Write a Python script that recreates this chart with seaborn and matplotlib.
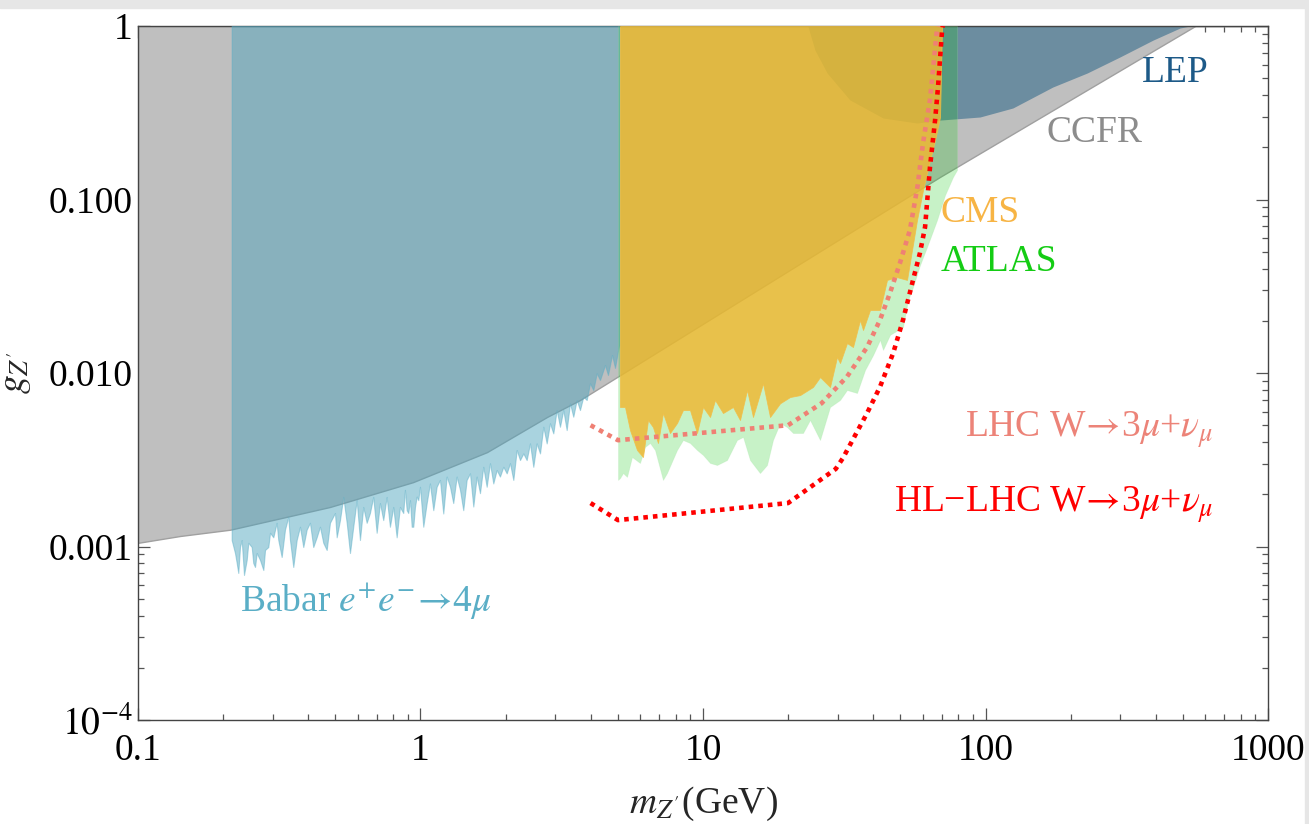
import matplotlib
matplotlib.use("Agg")
import matplotlib.pyplot as plt
import seaborn as sns
import pandas as pd
from matplotlib.ticker import FixedLocator, FixedFormatter, LogLocator, NullFormatter
from matplotlib.patches import Rectangle

# values: m_Z' in GeV, g_Z'
ccfr_m = [0.1, 0.141, 0.212, 0.478, 0.941, 1.719, 2.804, 3.669, 69.0, 552.0, 1000.0]
ccfr_g = [0.00105, 0.00115, 0.00125, 0.00169, 0.00235, 0.00350, 0.00558, 0.00699, 0.135, 1.0, 1.0]

lep_m = [23.5, 24.9, 27.5, 33.1, 43.4, 57.2, 69.0, 95.6, 125, 173, 229, 299, 392, 488, 529]
lep_g = [1.0, 0.727, 0.536, 0.375, 0.295, 0.276, 0.287, 0.299, 0.337, 0.445, 0.536, 0.663, 0.83, 0.974, 1.0]

babar_m = [0.2146, 0.2205, 0.2236, 0.2265, 0.2297, 0.2329, 0.2373, 0.2426, 0.2458, 0.2527,
           0.2559, 0.2596, 0.2632, 0.2704, 0.2778, 0.2817, 0.2893, 0.2934, 0.3013, 0.3097,
           0.3138, 0.3226, 0.3314, 0.3404, 0.3452, 0.3546, 0.3646, 0.3745, 0.3847, 0.3955,
           0.4062, 0.4173, 0.4291, 0.4408, 0.4528, 0.4656, 0.4782, 0.4981, 0.5051, 0.5188,
           0.5330, 0.5480, 0.5629, 0.5782, 0.5945, 0.6106, 0.6272, 0.6449, 0.6623, 0.6804,
           0.6996, 0.7186, 0.7382, 0.7590, 0.7796, 0.8009, 0.8235, 0.8458, 0.8689, 0.8810,
           0.8935, 0.9051, 0.9180, 0.9307, 0.9430, 0.9561, 0.9694, 0.9822, 0.9959, 1.023,
           1.052, 1.080, 1.110, 1.141, 1.172, 1.204, 1.238, 1.272, 1.306, 1.343,
           1.380, 1.417, 1.457, 1.497, 1.538, 1.581, 1.624, 1.668, 1.715, 1.762,
           1.810, 1.861, 1.911, 1.964, 2.019, 2.074, 2.131, 2.191, 2.250, 2.312,
           2.376, 2.441, 2.508, 2.578, 2.649, 2.721, 2.797, 2.873, 2.952, 3.034,
           3.117, 3.202, 3.292, 3.382, 3.474, 3.572, 3.669, 3.769, 3.875, 3.981,
           4.090, 4.205, 4.319, 4.499, 4.610, 4.764, 4.882, 5.043]
babar_g = [0.00109, 0.000917, 0.000803, 0.000704, 0.000993, 0.00109, 0.000685, 0.000836, 0.00105, 0.000993,
           0.000803, 0.000762, 0.000917, 0.000836, 0.000732, 0.000955, 0.000993, 0.00120, 0.00113, 0.00137,
           0.00109, 0.00087, 0.00125, 0.00148, 0.00109, 0.000762, 0.00109, 0.00130, 0.000993, 0.00125,
           0.00137, 0.000993, 0.00113, 0.00130, 0.00105, 0.000955, 0.00137, 0.00156, 0.00113, 0.00142,
           0.00193, 0.00137, 0.000917, 0.00130, 0.00185, 0.00109, 0.00169, 0.00137, 0.00156, 0.00193,
           0.00120, 0.00178, 0.00142, 0.00193, 0.00130, 0.00169, 0.00113, 0.00169, 0.00156, 0.00212,
           0.00162, 0.00156, 0.00185, 0.00130, 0.00130, 0.00169, 0.00194, 0.00185, 0.00221, 0.00130,
           0.00178, 0.00231, 0.00162, 0.00221, 0.00242, 0.00155, 0.00253, 0.00221, 0.00178, 0.00253,
           0.00212, 0.00162, 0.00242, 0.00264, 0.00170, 0.00253, 0.00203, 0.00288, 0.00221, 0.00302,
           0.00231, 0.00276, 0.00253, 0.00288, 0.00264, 0.00302, 0.00242, 0.00360, 0.00315, 0.00344,
           0.00315, 0.00393, 0.00288, 0.00393, 0.00344, 0.00490, 0.00393, 0.00513, 0.00449, 0.00612,
           0.00490, 0.00612, 0.00469, 0.00669, 0.00560, 0.00699, 0.00612, 0.00730, 0.00699, 0.00872,
           0.00798, 0.00996, 0.00911, 0.0111, 0.00974, 0.0127, 0.0107, 0.0145]

atlas_m = [5.003, 5.085, 5.211, 5.383, 5.607, 5.984, 6.233, 6.492, 6.762, 7.216,
           7.455, 8.091, 8.495, 8.995, 9.524, 10.0, 10.59, 11.21, 12.16, 13.19,
           13.86, 14.67, 15.91, 16.85, 17.69, 18.74, 19.83, 20.83, 22.59, 23.92,
           25.96, 28.16, 30.55, 32.34, 35.09, 37.45, 40.0, 42.32, 43.37, 45.92,
           51.05, 53.18, 55.39, 58.63, 62.08, 67.36, 71.89, 76.74, 79.27]
atlas_g = [0.00242, 0.00248, 0.00265, 0.00252, 0.00328, 0.00303, 0.00375, 0.00395, 0.00360, 0.00242,
           0.00265, 0.00360, 0.00411, 0.00395, 0.00360, 0.00337, 0.00303, 0.00295, 0.00315, 0.00411,
           0.00428, 0.00315, 0.00265, 0.00295, 0.00411, 0.00515, 0.00488, 0.00451, 0.00451, 0.00536,
           0.00411, 0.00637, 0.00699, 0.00798, 0.00767, 0.0104, 0.0127, 0.0155, 0.0136, 0.0166,
           0.0184, 0.0263, 0.0313, 0.0419, 0.0532, 0.0762, 0.106, 0.135, 0.148]

cms_m = [5.085, 5.296, 5.516, 5.840, 6.132, 6.387, 6.653, 6.929, 7.216, 7.640,
         8.091, 8.495, 8.995, 9.524, 10.0, 10.59, 11.03, 11.77, 12.77, 13.52,
         14.32, 15.03, 16.31, 17.27, 18.74, 20.32, 22.05, 24.51, 25.96, 28.16,
         29.81, 30.55, 32.34, 33.96, 35.96, 36.85, 39.01, 42.32, 44.81, 48.62,
         52.74, 54.94, 57.22, 60.09, 63.62, 66.27, 69.02, 70.15]
cms_g = [0.00637, 0.00637, 0.00469, 0.00360, 0.00328, 0.00536, 0.00488, 0.00395, 0.00588, 0.00451,
         0.00515, 0.00612, 0.00612, 0.00451, 0.00637, 0.00558, 0.00699, 0.00588, 0.00637, 0.00536,
         0.00798, 0.00558, 0.00872, 0.00558, 0.00669, 0.00727, 0.00746, 0.00831, 0.00948, 0.00831,
         0.01237, 0.01142, 0.01489, 0.01412, 0.0202, 0.0177, 0.0231, 0.0231, 0.0344, 0.0357,
         0.0344, 0.0512, 0.0762, 0.1134, 0.169, 0.220, 0.299, 1.0]

lhc_m = [4.0, 5.0, 20.0, 26.3, 32.3, 38.1, 42.3, 45.9, 49.8, 54.0, 57.5, 60.1, 63.6, 67.3, 68.0]
lhc_g = [0.0050, 0.0041, 0.0050, 0.0067, 0.0095, 0.0141, 0.0202, 0.0289, 0.0431, 0.0667, 0.12, 0.212, 0.375, 0.95, 1.0]

hllhc_m = [4.0, 5.0, 20.0, 29.5, 31.3, 38.1, 42.3, 47.1, 51.05, 55.4, 58.6, 61.1, 63.6, 66.3, 67.9, 70.2, 70.6]
hllhc_g = [0.00178, 0.00142, 0.00178, 0.0028, 0.00324, 0.00588, 0.00831, 0.0130, 0.0202, 0.0344, 0.0492,
           0.0694, 0.154, 0.287, 0.445, 0.95, 1.0]

x_ticks = [0.1, 1, 10, 100, 1000]
x_labels = ["0.1", "1", "10", "100", "1000"]
y_ticks = [1e-4, 1e-3, 1e-2, 1e-1, 1]
y_labels = [r"$10^{-4}$", "0.001", "0.010", "0.100", "1"]

sns.set_theme(style="ticks")
plt.rcParams["font.family"] = ["Liberation Serif", "DejaVu Serif"]
plt.rcParams["mathtext.fontset"] = "stix"

fig = plt.figure(figsize=(13.09, 8.24), dpi=100)
fig.patches.append(Rectangle((0, 1 - 8 / 824), 1, 8 / 824, transform=fig.transFigure,
                             color="#e6e6e6", zorder=0))
fig.patches.append(Rectangle((1305 / 1309, 0), 4 / 1309, 1, transform=fig.transFigure,
                             color="#e6e6e6", zorder=0))
ax = fig.add_axes([0.1054, 0.1262, 0.8633, 0.8422])
ax.set_xscale("log")
ax.set_yscale("log")

# exclusion regions
ax.fill_between(ccfr_m, ccfr_g, 1, color="#bfbfbf", ec="#a0a0a0", lw=1.0, zorder=1)
ax.fill_between(lep_m, lep_g, 1, color="#286487", alpha=0.55, lw=0, zorder=2)
ax.fill_between(babar_m, babar_g, 1, fc="#4ca3bc", alpha=0.48, ec="#5aaec6", lw=0.8, zorder=3)
ax.fill_between(atlas_m, atlas_g, 1, fc="#11c811", alpha=0.23, ec="#9fe39f", lw=0.6, zorder=4)
ax.fill_between(cms_m, cms_g, 1, fc="#f0b732", alpha=0.83, ec="#f3bd45", lw=0.6, zorder=5)

# projected sensitivities
lines = pd.DataFrame({"m": lhc_m + hllhc_m, "g": lhc_g + hllhc_g,
                      "set": ["lhc"] * len(lhc_m) + ["hl"] * len(hllhc_m)})
for key, col in [("lhc", "#ef8074"), ("hl", "#ff0000")]:
    sub = lines[lines["set"] == key]
    sns.lineplot(data=sub, x="m", y="g", sort=False, estimator=None, color=col,
                 lw=3.3, ax=ax, zorder=6)
    ln = ax.lines[-1]
    ln.set_linestyle((0, (1.0, 1.1)))
    ln.set_dash_capstyle("butt")

# labels
fs = 27
arrow = r"$\!\rightarrow\!$"
ax.text(469, 0.536, "LEP", color="#1d5a88", fontsize=fs, ha="center", va="center", zorder=7)
ax.text(244, 0.2416, "CCFR", color="#8c8c8c", fontsize=fs, ha="center", va="center", zorder=7)
ax.text(69.5, 0.0836, "CMS", color="#f7b444", fontsize=fs, ha="left", va="center", zorder=7)
ax.text(69.5, 0.0436, "ATLAS", color="#14cc14", fontsize=fs, ha="left", va="center", zorder=7)
ax.text(640, 0.0047, "LHC W" + arrow + "3$\\mu$+$\\nu_{\\mu}$", color="#ec8378",
        fontsize=fs, ha="right", va="center", zorder=7)
ax.text(640, 0.00175, "HL−LHC W" + arrow + "3$\\mu$+$\\nu_{\\mu}$", color="#ff0000",
        fontsize=fs, ha="right", va="center", zorder=7)
ax.text(0.2297, 0.00049, "Babar $e^{+}e^{-}$" + arrow + "4$\\mu$", color="#5aaec6",
        fontsize=fs, ha="left", va="center", zorder=7)

ax.set_xlim(0.1, 1000)
ax.set_ylim(1e-4, 1)
ax.xaxis.set_major_locator(FixedLocator(x_ticks))
ax.xaxis.set_major_formatter(FixedFormatter(x_labels))
ax.yaxis.set_major_locator(FixedLocator(y_ticks))
ax.yaxis.set_major_formatter(FixedFormatter(y_labels))
ax.xaxis.set_minor_locator(LogLocator(base=10, subs=range(2, 10), numticks=20))
ax.yaxis.set_minor_locator(LogLocator(base=10, subs=range(2, 10), numticks=20))
ax.xaxis.set_minor_formatter(NullFormatter())
ax.yaxis.set_minor_formatter(NullFormatter())
ax.tick_params(which="both", direction="in", top=True, right=True, color="#555555",
               width=0.9, labelsize=fs, labelcolor="black")
ax.tick_params(which="major", length=8.5)
ax.tick_params(which="minor", length=4.3)
ax.tick_params(axis="x", pad=10)
ax.tick_params(axis="y", pad=4)
for sp in ax.spines.values():
    sp.set_color("#444444")
    sp.set_linewidth(1.0)

ax.set_xlabel(r"$m_{Z'}$(GeV)", fontsize=fs)
ax.set_ylabel(r"$g_{Z'}$", fontsize=fs)
ax.xaxis.set_label_coords(0.5, -0.094)
ax.yaxis.set_label_coords(-0.092, 0.5)

fig.savefig("out.png", dpi=100)
